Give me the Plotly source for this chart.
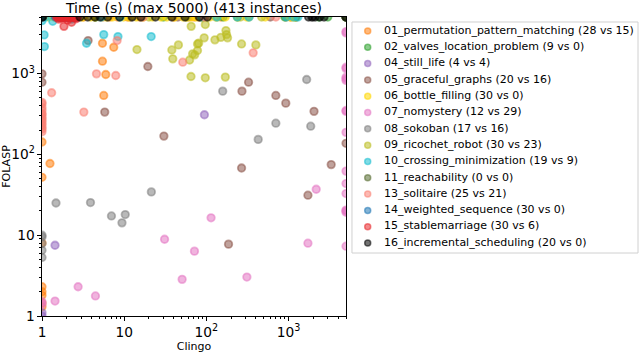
import plotly.graph_objects as go

# benchmark families, legend order
names = ["01_permutation_pattern_matching", "02_valves_location_problem", "04_still_life",
         "05_graceful_graphs", "06_bottle_filling", "07_nomystery", "08_sokoban",
         "09_ricochet_robot", "10_crossing_minimization", "11_reachability", "13_solitaire",
         "14_weighted_sequence", "15_stablemarriage", "16_incremental_scheduling"]
colors = ["#ff7f0e", "#2ca02c", "#9467bd", "#8c564b", "#ffd700", "#e377c2", "#7f7f7f",
          "#bcbd22", "#17becf", "#556b2f", "#fa8072", "#1f77b4", "#e8282b", "#000000"]
clingo_solved = [28, 9, 4, 20, 30, 12, 17, 30, 19, 0, 25, 30, 30, 20]
folasp_solved = [15, 0, 4, 16, 0, 29, 16, 23, 9, 0, 21, 0, 6, 0]

# times in seconds, 5000 = timeout
perm_clingo = [5.44, 7.46, 5.44, 5.97, 5.64, 1.25, 1, 1, 1, 1, 1, 1, 1, 1,
               5.5, 6.7, 8.3, 15.4, 62, 71, 82, 930, 1070, 1230, 3.2, 11, 40, 150]
perm_folasp = [2366, 2113, 1420, 972, 535, 77, 142, 52, 8, 2.3, 1.8, 1.3, 1.45, 2.0,
               5000, 5000, 5000, 5000, 5000, 5000, 5000, 5000, 5000, 5000, 5000, 5000, 5000, 5000]
valves_clingo = [1.8, 4.5, 30, 160, 900, 1230, 2330, 3000, 5000]
valves_folasp = [5000, 5000, 5000, 5000, 5000, 5000, 5000, 5000, 5000]
life_clingo = [94.6, 1.44, 1, 1]
life_folasp = [309, 7.5, 1, 1.1]
graceful_clingo = [1, 1, 3.64, 19.4, 5.8, 30.4, 326, 271, 700, 925, 2040, 268, 3300, 1720, 186,
                   2.0, 12, 45, 90, 600, 5000]
graceful_folasp = [990, 780, 2555, 1220, 333, 168, 780, 605, 535, 430, 340, 67.8, 74.6, 31.2, 7.74,
                   5000, 5000, 5000, 5000, 5000, 137]
bottle_clingo = [1.2, 1.4, 2.2, 2.5, 3.1, 3.9, 4.4, 6.1, 7.2, 9.8, 11.5, 14, 17, 22, 28,
                 33, 41, 52, 58, 66, 75, 88, 110, 135, 170, 240, 310, 520, 1050, 1150]
bottle_folasp = [5000, 5000, 5000, 5000, 5000, 5000, 5000, 5000, 5000, 5000, 5000, 5000, 5000, 5000, 5000,
                 5000, 5000, 5000, 5000, 5000, 5000, 5000, 5000, 5000, 5000, 5000, 5000, 5000, 5000, 5000]
nomystery_clingo = [114, 1720, 71.6, 50.7, 311, 31, 2.75, 4.47, 1.44, 2170, 1, 1,
                    5000, 5000, 5000, 5000, 5000, 5000, 5000, 5000, 5000, 5000, 5000, 5000,
                    5000, 5000, 5000, 5000, 5000]
nomystery_folasp = [16.4, 7.96, 6.34, 2.84, 3.03, 8.9, 2.3, 1.77, 1.53, 37, 1.5, 1.4,
                    3180, 1197, 900, 820, 349, 187, 62, 43.5, 32.7, 20.4, 19.2, 7.3,
                    3300, 1150, 860, 340, 20]
sokoban_clingo = [158, 1660, 700, 1860, 427, 1.48, 3.89, 21.4, 7.0, 10.3, 9.4, 1, 1, 1, 1, 1, 1900]
sokoban_folasp = [605, 843, 243, 223, 153, 25, 25.3, 34.3, 17.3, 18, 14.2, 10, 9.5, 7.9, 6.5, 5.3, 5000]
ricochet_clingo = [14.3, 65.3, 38, 45.7, 39, 62.5, 68, 78, 65, 97, 173, 176, 94, 127, 150, 181,
                   80.6, 268, 400, 78, 97, 170, 72, 20, 58, 130, 238, 260, 330, 470]
ricochet_folasp = [1978, 3830, 1955, 2260, 1518, 1470, 1750, 2320, 918, 4030, 3400, 3030, 2760, 2607,
                   2800, 2760, 2366, 2320, 2260, 1923, 885, 902, 1700,
                   5000, 5000, 5000, 5000, 5000, 5000, 5000]
crossing_clingo = [1.35, 1.06, 1.07, 3.48, 5.64, 8.4, 21.3, 1, 2.3,
                   1.1, 5.3, 8.9, 87, 135, 238, 330, 940, 1150, 1300]
crossing_folasp = [4425, 3005, 2154, 2366, 3030, 2866, 2866, 4500, 4700,
                   5000, 5000, 5000, 5000, 5000, 5000, 5000, 5000, 5000, 5000]
reach_clingo = [5000, 5000, 5000]
reach_folasp = [5000, 5000, 5000]
solitaire_clingo = [1.31, 1, 1, 1, 1, 1, 1, 1, 8.2, 4.6, 7.9, 3.23, 51.6, 371,
                    1, 1, 1, 1, 1, 1, 1, 2.4, 17, 95, 700]
solitaire_folasp = [578, 420, 350, 320, 290, 260, 230, 205, 2555, 990, 945, 333, 1380, 1800,
                    440, 380, 310, 275, 245, 215, 190, 5000, 5000, 5000, 5000]
weighted_clingo = [1.45, 1.52, 1.57, 1.61, 1.64, 1.69, 1.73, 1.78, 1.84, 1.9, 1.96, 2.01, 2.04, 2.11, 2.16,
                   2.22, 2.27, 2.31, 2.36, 2.42, 2.47, 2.51, 2.56, 2.62, 2.66, 1.66, 1.76, 1.98, 2.19, 2.39]
weighted_folasp = [5000, 5000, 5000, 5000, 5000, 5000, 5000, 5000, 5000, 5000, 5000, 5000, 5000, 5000, 5000,
                   5000, 5000, 5000, 5000, 5000, 5000, 5000, 5000, 5000, 5000, 5000, 5000, 5000, 5000, 5000]
stable_clingo = [1.85, 2.29, 2.05, 1.6, 2.6, 1.75,
                 1.5, 1.56, 1.59, 1.66, 1.71, 1.77, 1.8, 1.86, 1.91, 1.94, 2.0, 2.06, 2.09, 2.14,
                 2.21, 2.24, 2.3, 2.36, 2.41, 2.44, 2.52, 2.55, 2.61, 2.7]
stable_folasp = [3830, 4300, 4600, 4700, 4750, 4850,
                 5000, 5000, 5000, 5000, 5000, 5000, 5000, 5000, 5000, 5000, 5000, 5000, 5000, 5000,
                 5000, 5000, 5000, 5000, 5000, 5000, 5000, 5000, 5000, 5000]
sched_clingo = [1, 1.02, 2.9, 3.6, 4.4, 5.1, 6.3, 8.8, 12.5, 16, 24, 38, 55, 82, 103,
                1750, 1950, 2100, 2400, 2700, 5000]
sched_folasp = [5000, 5000, 5000, 5000, 5000, 5000, 5000, 5000, 5000, 5000, 5000, 5000, 5000, 5000, 5000,
                5000, 5000, 5000, 5000, 5000, 5000]

clingo_times = [perm_clingo, valves_clingo, life_clingo, graceful_clingo, bottle_clingo,
                nomystery_clingo, sokoban_clingo, ricochet_clingo, crossing_clingo, reach_clingo,
                solitaire_clingo, weighted_clingo, stable_clingo, sched_clingo]
folasp_times = [perm_folasp, valves_folasp, life_folasp, graceful_folasp, bottle_folasp,
                nomystery_folasp, sokoban_folasp, ricochet_folasp, crossing_folasp, reach_folasp,
                solitaire_folasp, weighted_folasp, stable_folasp, sched_folasp]


def rgba(h, a):
    h = h.lstrip("#")
    return "rgba(%d,%d,%d,%.2f)" % (int(h[0:2], 16), int(h[2:4], 16), int(h[4:6], 16), a)


ALPHA = 0.55
FONT = "DejaVu Sans"

fig = go.Figure()
for cx, fy, c in zip(clingo_times, folasp_times, colors):
    fig.add_trace(go.Scatter(
        x=cx, y=fy, mode="markers", showlegend=False, cliponaxis=True,
        marker=dict(size=7.5, color=rgba(c, ALPHA), line=dict(width=1.8, color=rgba(c, ALPHA)))))

# hand-made legend on its own little axes so the rows can be packed like matplotlib
labels = ["%s (%d vs %d)" % (n, a, b) for n, a, b in zip(names, clingo_solved, folasp_solved)]
rows = list(range(len(names)))
fig.add_trace(go.Scatter(
    x=[0.055] * len(rows), y=rows, xaxis="x2", yaxis="y2", mode="markers", showlegend=False,
    marker=dict(size=6, color=[rgba(c, ALPHA) for c in colors],
                line=dict(width=1.5, color=[rgba(c, ALPHA) for c in colors]))))
fig.add_trace(go.Scatter(
    x=[0.112] * len(rows), y=rows, xaxis="x2", yaxis="y2", mode="text", showlegend=False,
    text=labels, textposition="middle right", textfont=dict(family=FONT, size=11, color="black")))

fig.add_shape(type="rect", xref="x2 domain", yref="y2 domain", x0=0, x1=1, y0=0, y1=1,
              line=dict(color="#d0d0d0", width=1), fillcolor="rgba(255,255,255,0)", layer="below")

axis_common = dict(
    type="log", range=[0, 3.699], dtick=1, exponentformat="power", automargin=False,
    showline=True, linecolor="black", linewidth=1, mirror=True,
    ticks="outside", ticklen=4, tickwidth=0.8, tickcolor="black",
    minor=dict(ticks="outside", ticklen=2, tickwidth=0.6, tickcolor="black", showgrid=False),
    showgrid=False, zeroline=False,
    tickfont=dict(family=FONT, size=11, color="black"),
)

fig.update_layout(
    width=640, height=353,
    margin=dict(l=42, r=2, t=17, b=37, autoexpand=False),
    paper_bgcolor="white", plot_bgcolor="white",
    font=dict(family=FONT, color="black"),
    title=dict(text="Time (s) (max 5000) (413 instances)", x=0.303, xanchor="center",
               xref="container", yref="container", y=0.978, yanchor="middle",
               automargin=False, font=dict(family=FONT, size=14, color="black")),
    xaxis=dict(axis_common, domain=[0, 0.5101], ticklabelstandoff=0,
               title=dict(text="Clingo", standoff=0, font=dict(family=FONT, size=11))),
    yaxis=dict(axis_common, domain=[0, 1],
               title=dict(text="FOLASP", standoff=4, font=dict(family=FONT, size=11))),
    xaxis2=dict(domain=[0.5201, 1.0], range=[0, 1], visible=False, fixedrange=True,
                automargin=False),
    yaxis2=dict(domain=[0.2107, 0.9833], range=[13.61, -0.55], visible=False, fixedrange=True,
                anchor="x2", automargin=False),
)

# the page's default body margin would push the figure 8px down/right
fig.write_html("out.html", config={"displayModeBar": False},
               post_script="document.body.style.margin='0';")
